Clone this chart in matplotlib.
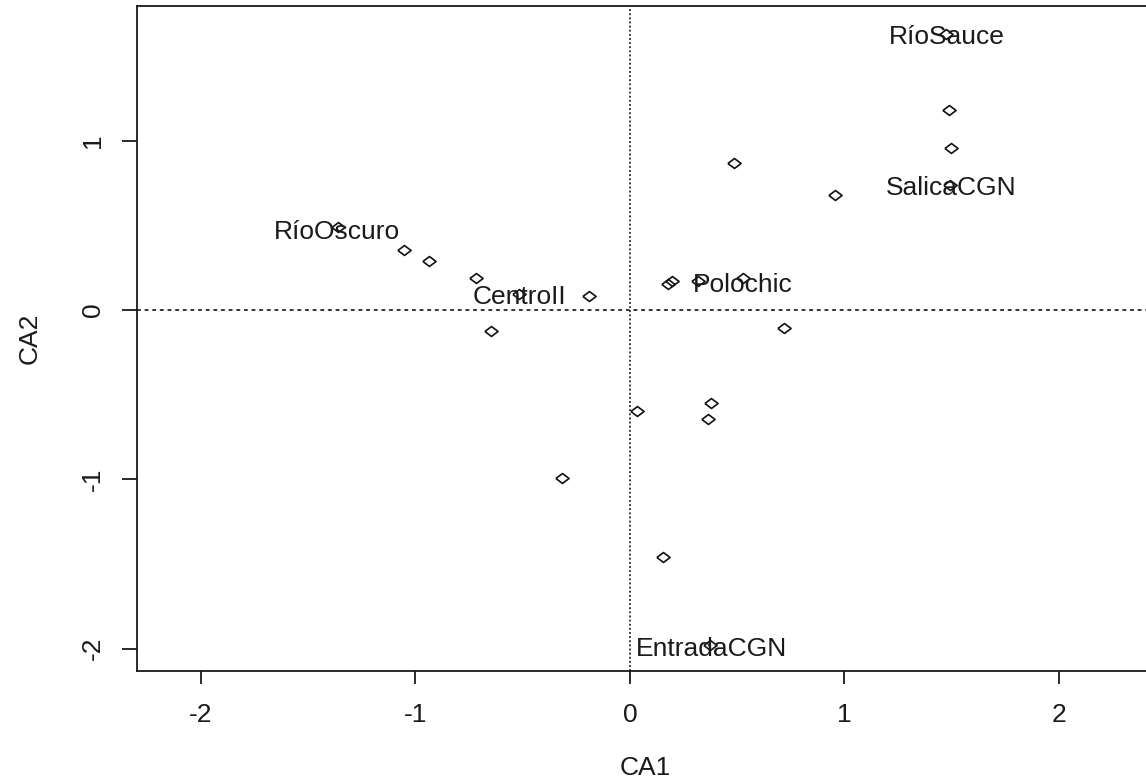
import matplotlib
matplotlib.use("Agg")
import matplotlib.pyplot as plt

plt.rcParams['font.family'] = ['Liberation Sans', 'DejaVu Sans']
plt.rcParams['axes.unicode_minus'] = False

# site scores (CA1, CA2)
ca1 = [1.473, 1.487, 1.497, 1.492, 0.485, 0.956, 0.177, 0.196, 0.317, 0.527,
       0.718, -1.361, -1.054, -0.937, -0.718, -0.517, -0.191, -0.648, 0.033,
       0.378, 0.364, -0.317, 0.154, 0.373]
ca2 = [1.630, 1.181, 0.957, 0.738, 0.868, 0.679, 0.154, 0.171, 0.171, 0.189,
       -0.106, 0.490, 0.354, 0.289, 0.189, 0.095, 0.083, -0.124, -0.597,
       -0.549, -0.644, -0.992, -1.459, -1.979]

# group labels
groups = ["RíoSauce", "SalicaCGN", "RíoOscuro", "CentroII", "Polochic", "EntradaCGN"]
group_x = [1.478, 1.496, -1.364, -0.513, 0.527, 0.378]
group_y = [1.615, 0.720, 0.462, 0.075, 0.150, -2.005]

xticks = [-2, -1, 0, 1, 2]
yticks = [-2, -1, 0, 1]

W, H = 1146, 781
fig = plt.figure(figsize=(W / 100, H / 100), dpi=100)
left, right, top, bottom = 137, 1154, 6, 671
ax = fig.add_axes([left / W, (H - bottom) / H, (right - left) / W, (bottom - top) / H])

ax.set_xlim(-2.298, 2.443)
ax.set_ylim(-2.132, 1.796)

ax.axvline(0, color='black', lw=1.1, ls=(0, (1.2, 1.5)), zorder=1)
ax.axhline(0, color='black', lw=1.1, ls=(0, (2.5, 2.5)), zorder=1)

diamond = [(-1, 0), (0, 0.75), (1, 0), (0, -0.75), (-1, 0)]
ax.plot(ca1, ca2, ls='none', marker=diamond, ms=9.5, mfc='none', mec='#111111', mew=1.2, zorder=2)

for name, gx, gy in zip(groups, group_x, group_y):
    ax.text(gx, gy, name, ha='center', va='center', fontsize=19, color='#1a1a1a', zorder=3)

ax.set_xticks(xticks)
ax.set_yticks(yticks)
ax.set_xticklabels([str(t) for t in xticks])
ax.set_yticklabels([str(t) for t in yticks])
ax.tick_params(axis='x', length=9.4, width=1.3, pad=14, labelsize=19, colors='#1a1a1a')
ax.tick_params(axis='y', length=10.8, width=1.3, pad=12, labelsize=19, colors='#1a1a1a')
for lab in ax.get_yticklabels():
    lab.set_rotation(90)
    lab.set_va('center')

for s in ax.spines.values():
    s.set_linewidth(1.3)
    s.set_color('#1a1a1a')

ax.set_xlabel("CA1", fontsize=19, color='#1a1a1a', va='center')
ax.set_ylabel("CA2", fontsize=19, color='#1a1a1a', va='center')
ax.xaxis.set_label_coords(0.5, -(768 - bottom) / (bottom - top))
ax.yaxis.set_label_coords(-(left - 30) / (right - left), 0.5)

fig.savefig("out.png", dpi=100)
